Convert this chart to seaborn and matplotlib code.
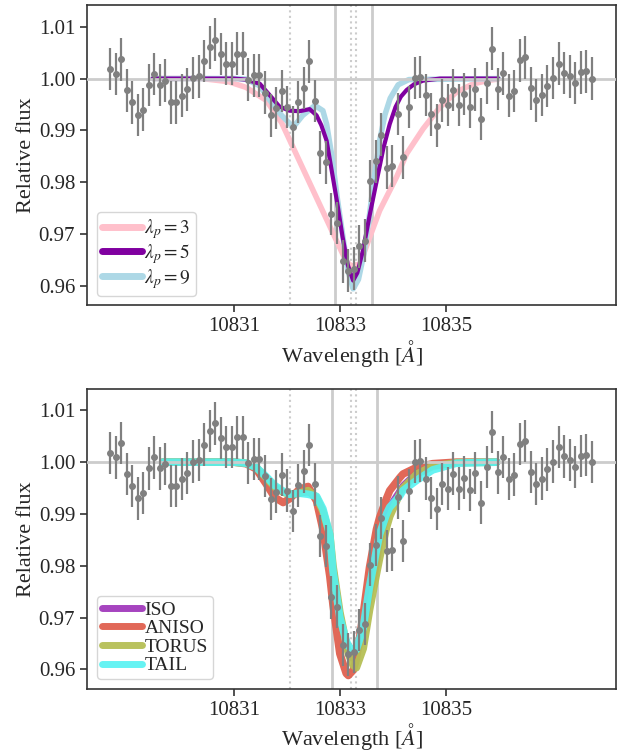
import numpy as np
import seaborn as sns
import matplotlib.pyplot as plt

# observed spectrum (same data in both panels)
wave = [10828.664, 10828.768, 10828.873, 10828.977, 10829.082, 10829.186, 10829.291, 10829.395,
        10829.500, 10829.604, 10829.709, 10829.813, 10829.918, 10830.022, 10830.126, 10830.231,
        10830.335, 10830.440, 10830.544, 10830.649, 10830.753, 10830.858, 10830.962, 10831.067,
        10831.171, 10831.276, 10831.380, 10831.484, 10831.589, 10831.693, 10831.798, 10831.902,
        10832.007, 10832.111, 10832.216, 10832.320, 10832.425, 10832.529, 10832.633, 10832.738,
        10832.842, 10832.947, 10833.051, 10833.156, 10833.260, 10833.365, 10833.469, 10833.574,
        10833.678, 10833.783, 10833.887, 10833.991, 10834.096, 10834.200, 10834.305, 10834.409,
        10834.514, 10834.618, 10834.723, 10834.827, 10834.932, 10835.036, 10835.141, 10835.245,
        10835.349, 10835.454, 10835.558, 10835.663, 10835.767, 10835.872, 10835.976, 10836.081,
        10836.185, 10836.290, 10836.394, 10836.498, 10836.603, 10836.707, 10836.812, 10836.916,
        10837.021, 10837.125, 10837.230, 10837.334, 10837.439, 10837.543, 10837.647, 10837.752]
flux = [1.0018, 1.0009, 1.0037, 0.9977, 0.9954, 0.9930, 0.9940, 0.9988, 1.0009, 0.9988,
        0.9996, 0.9954, 0.9954, 0.9967, 0.9979, 1.0001, 1.0004, 1.0034, 1.0060, 1.0075,
        1.0047, 1.0029, 1.0029, 1.0048, 1.0048, 0.9998, 1.0006, 1.0006, 0.9973, 0.9929,
        0.9943, 0.9976, 0.9945, 0.9906, 0.9955, 0.9982, 1.0033, 0.9957, 0.9857, 0.9838,
        0.9739, 0.9721, 0.9647, 0.9629, 0.9633, 0.9676, 0.9687, 0.9802, 0.9840, 0.9892,
        0.9828, 0.9831, 0.9932, 0.9848, 0.9945, 1.0001, 1.0003, 0.9968, 0.9931, 0.9909,
        0.9958, 0.9949, 0.9978, 0.9949, 0.9970, 0.9946, 0.9979, 0.9922, 0.9991, 1.0058,
        0.9980, 1.0010, 0.9967, 0.9976, 1.0035, 1.0041, 0.9981, 0.9958, 0.9968, 0.9986,
        1.0001, 1.0029, 1.0011, 1.0004, 0.9991, 1.0012, 1.0014, 1.0000]
flux_err = 0.0041

# top panel models
lp3_wave = [10829.47, 10830.40, 10830.90, 10831.23, 10831.61, 10831.90, 10832.25, 10832.60,
            10832.90, 10833.12, 10833.22, 10833.38, 10833.55, 10833.75, 10834.07, 10834.26,
            10834.57, 10834.89, 10835.20, 10835.52, 10835.83, 10835.99]
lp3_flux = [1.0000, 1.0000, 0.9994, 0.9983, 0.9958, 0.9915, 0.9838, 0.9761,
            0.9695, 0.9647, 0.9638, 0.9642, 0.9690, 0.9745, 0.9810, 0.9855,
            0.9903, 0.9945, 0.9974, 0.9990, 0.9997, 0.9999]
lp5_wave = [10829.47, 10831.00, 10831.23, 10831.49, 10831.71, 10831.86, 10832.05, 10832.24,
            10832.43, 10832.56, 10832.65, 10832.75, 10832.85, 10832.95, 10833.05, 10833.15,
            10833.25, 10833.33, 10833.44, 10833.56, 10833.69, 10833.82, 10833.94, 10834.05,
            10834.15, 10834.26, 10834.40, 10834.57, 10834.89, 10835.99]
lp5_flux = [1.0000, 1.0000, 0.9998, 0.9990, 0.9964, 0.9946, 0.9938, 0.9937,
            0.9941, 0.9929, 0.9910, 0.9880, 0.9820, 0.9760, 0.9695, 0.9640,
            0.9610, 0.9625, 0.9670, 0.9735, 0.9800, 0.9865, 0.9912, 0.9945,
            0.9965, 0.9978, 0.9989, 0.9996, 1.0000, 1.0000]
lp9_wave = [10829.47, 10831.00, 10831.23, 10831.49, 10831.68, 10831.90, 10832.12, 10832.30,
            10832.53, 10832.68, 10832.75, 10832.85, 10832.95, 10833.05, 10833.15, 10833.25,
            10833.35, 10833.45, 10833.55, 10833.65, 10833.75, 10833.85, 10833.95, 10834.10,
            10834.30, 10835.99]
lp9_flux = [1.0000, 1.0000, 0.9999, 0.9986, 0.9958, 0.9929, 0.9906, 0.9929,
            0.9948, 0.9938, 0.9912, 0.9850, 0.9770, 0.9700, 0.9630, 0.9594,
            0.9612, 0.9660, 0.9730, 0.9810, 0.9880, 0.9930, 0.9962, 0.9988,
            0.9998, 1.0000]

# bottom panel models
geo_wave = [10829.66, 10831.00, 10831.23, 10831.42, 10831.61, 10831.77, 10831.93, 10832.05,
            10832.24, 10832.40, 10832.56, 10832.68, 10832.81, 10832.87, 10833.00, 10833.12,
            10833.16, 10833.25, 10833.31, 10833.44, 10833.56, 10833.69, 10833.75, 10833.88,
            10833.94, 10834.13, 10834.19, 10834.45, 10834.75, 10835.20, 10835.96]
iso_flux = [1.0000, 1.0000, 0.9998, 0.9990, 0.9970, 0.9952, 0.9942, 0.9938,
            0.9940, 0.9942, 0.9932, 0.9905, 0.9860, 0.9800, 0.9710, 0.9650,
            0.9635, 0.9620, 0.9622, 0.9670, 0.9740, 0.9800, 0.9840, 0.9895,
            0.9915, 0.9945, 0.9955, 0.9980, 0.9993, 0.9999, 1.0000]
aniso_flux = [1.0000, 1.0000, 0.9997, 0.9987, 0.9958, 0.9932, 0.9922, 0.9929,
              0.9948, 0.9953, 0.9925, 0.9870, 0.9780, 0.9725, 0.9630, 0.9592,
              0.9588, 0.9598, 0.9620, 0.9706, 0.9797, 0.9870, 0.9893, 0.9930,
              0.9945, 0.9970, 0.9977, 0.9990, 0.9997, 1.0000, 1.0000]
torus_flux = [1.0000, 1.0000, 0.9998, 0.9990, 0.9970, 0.9952, 0.9942, 0.9938,
              0.9940, 0.9945, 0.9932, 0.9905, 0.9860, 0.9800, 0.9710, 0.9650,
              0.9630, 0.9608, 0.9603, 0.9640, 0.9715, 0.9784, 0.9815, 0.9874,
              0.9895, 0.9939, 0.9950, 0.9977, 0.9992, 0.9999, 1.0000]
tail_flux = [1.0000, 1.0000, 0.9998, 0.9990, 0.9972, 0.9955, 0.9944, 0.9938,
             0.9940, 0.9938, 0.9934, 0.9910, 0.9860, 0.9790, 0.9700, 0.9655,
             0.9645, 0.9636, 0.9638, 0.9680, 0.9760, 0.9830, 0.9861, 0.9900,
             0.9913, 0.9935, 0.9945, 0.9965, 0.9985, 0.9998, 1.0000]

he_lines = [10832.057, 10833.217, 10833.306]
top_bounds = [10832.903, 10833.615]
bottom_bounds = [10832.852, 10833.709]

xtick_vals = [10831, 10833, 10835]
ytick_vals = [0.96, 0.97, 0.98, 0.99, 1.00, 1.01]

sns.set_style("ticks")
plt.rcParams['font.family'] = ['Liberation Serif', 'DejaVu Serif']
plt.rcParams['mathtext.fontset'] = 'stix'
plt.rcParams['font.size'] = 15

fig, (ax1, ax2) = plt.subplots(2, 1, figsize=(6.28, 7.51), dpi=100)
fig.subplots_adjust(left=0.1385, right=0.981, top=0.9933, bottom=0.0826, hspace=0.277)

# (wave, flux, colour, width, alpha, zorder, label)
top_models = [(lp3_wave, lp3_flux, "pink", 4.0, 1.0, 2.0, r"$\lambda_p = 3$"),
              (lp5_wave, lp5_flux, "#8000a0", 3.0, 1.0, 2.2, r"$\lambda_p = 5$"),
              (lp9_wave, lp9_flux, "lightblue", 4.0, 1.0, 2.1, r"$\lambda_p = 9$")]
bottom_models = [(geo_wave, iso_flux, "#9c2fb8", 4.5, 0.9, 2.0, "ISO"),
                 (geo_wave, aniso_flux, "#e0604f", 5.5, 0.95, 2.1, "ANISO"),
                 (geo_wave, torus_flux, "#b5bf55", 5.5, 0.95, 2.2, "TORUS"),
                 (geo_wave, tail_flux, "#55f2f2", 5.5, 0.9, 2.3, "TAIL")]

for ax, models, bounds in [(ax1, top_models, top_bounds), (ax2, bottom_models, bottom_bounds)]:
    for w, f, c, lw, a, z, lab in models:
        sns.lineplot(x=w, y=f, ax=ax, color=c, lw=lw, alpha=a, label=lab, sort=False, zorder=z)
    ax.axhline(1.0, color="#cccccc", lw=2, zorder=3)
    for b in bounds:
        ax.axvline(b, color="#cccccc", lw=2, zorder=1)
    for h in he_lines:
        ax.axvline(h, color="#cccccc", lw=1.5, ls=":", zorder=1)
    ax.errorbar(wave, flux, yerr=flux_err, fmt="o", color="gray", ms=4,
                elinewidth=1.6, capsize=0, zorder=4)
    ax.set_xlim(10828.23, 10838.21)
    ax.set_ylim(0.9562, 1.0142)
    ax.set_xticks(xtick_vals)
    ax.set_xticklabels([str(v) for v in xtick_vals])
    ax.set_yticks(ytick_vals)
    ax.set_yticklabels(["%.2f" % v for v in ytick_vals])
    ax.set_xlabel(r"Wavelength [$\AA$]", fontsize=16, labelpad=1)
    ax.set_ylabel("Relative flux", fontsize=16, labelpad=2)
    ax.tick_params(labelsize=15, length=5, width=1.2, color="#333333")
    for s in ax.spines.values():
        s.set_color("#333333")
        s.set_linewidth(1.2)
    leg = ax.legend(loc="lower left", fontsize=14, handlelength=2.1, handletextpad=0.1,
                    labelspacing=0.05, borderpad=0.25, fancybox=True)
    for line in leg.get_lines():
        line.set_linewidth(5)

plt.savefig("out.png", dpi=100)
